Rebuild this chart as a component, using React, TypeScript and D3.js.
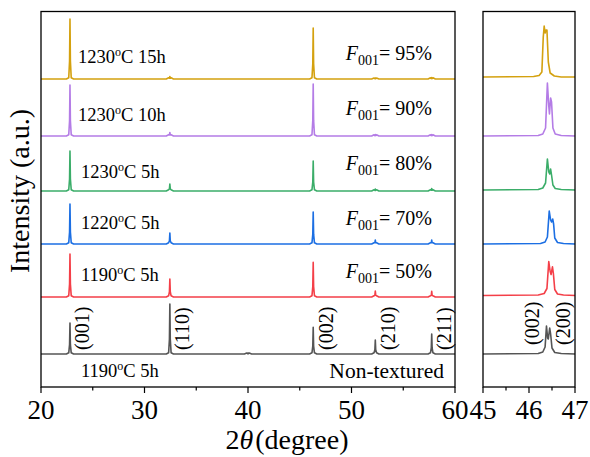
import React from 'react';
import * as d3 from 'd3';

// traces listed top to bottom
const SAMPLES = ['1230°C 15h', '1230°C 10h', '1230°C 5h', '1220°C 5h', '1190°C 5h', '1190°C 5h'];
const F001 = ['95%', '90%', '80%', '70%', '50%', ''];
const COLORS = ['#D4A10F', '#B47CE6', '#3BAD69', '#1C6FE3', '#F43F48', '#555555'];
// vertical offset of each trace (intensity units, a.u.)
const OFFSETS = [308, 251, 196, 143, 90, 33];
const RIGHT_OFFSETS = [310, 251, 197, 143, 91.5, 33];

// peak positions (2θ) and peak heights for each trace in the wide panel
const PEAK_POS = [22.8, 32.45, 40.0, 46.3, 52.3, 57.75];
const PEAK_H = [
  [60, 2.5, 0, 51, 1, 1.5],
  [51, 3.5, 0, 52, 1.5, 1.5],
  [40, 7, 0, 30, 2, 2.5],
  [40, 11, 0, 32, 4, 4],
  [43, 18, 0, 34.6, 6, 5.6],
  [31, 50, 1, 26.6, 14, 20],
];
const HKL = ['(001)', '(110)', '', '(002)', '(210)', '(211)'];

// zoomed (002)/(200) doublet, 45-47°
const ZOOM: [number, number][][] = [
  [[45, 0], [46.1, 0.5], [46.22, 1.5], [46.28, 5], [46.31, 40], [46.33, 51], [46.35, 44], [46.37, 47], [46.39, 47], [46.42, 15], [46.46, 4], [46.55, 1], [46.7, 0], [47, 0]],
  [[45, 0], [46.2, 0.5], [46.3, 2], [46.36, 8], [46.4, 53], [46.43, 30], [46.445, 22], [46.47, 38], [46.49, 34], [46.52, 8], [46.57, 2], [46.7, 0.5], [47, 0]],
  [[45, 0], [46.2, 0.5], [46.3, 2], [46.36, 7], [46.4, 31], [46.43, 18], [46.45, 16], [46.47, 21], [46.49, 15], [46.52, 5], [46.57, 1.5], [46.7, 0.5], [47, 0]],
  [[45, 0], [46.25, 0.5], [46.35, 2], [46.4, 7], [46.44, 33], [46.47, 24], [46.49, 22], [46.515, 25], [46.535, 20], [46.56, 6], [46.62, 1.5], [46.75, 0.5], [47, 0]],
  [[45, 0], [46.2, 0.5], [46.33, 2], [46.39, 7], [46.43, 34], [46.46, 24], [46.48, 21], [46.51, 28.6], [46.53, 22], [46.56, 6], [46.62, 1.5], [46.75, 0.5], [47, 0]],
  [[45, 0], [46.2, 0.5], [46.3, 2], [46.35, 7], [46.38, 28], [46.405, 16], [46.42, 15], [46.45, 26], [46.47, 20], [46.5, 6], [46.56, 1.5], [46.7, 0.5], [47, 0]],
];
const ZOOM_HKL = [{ pos: 46.22, label: '(002)' }, { pos: 46.9, label: '(200)' }];

const X_TICKS = [20, 30, 40, 50, 60];
const X_MINOR = [25, 35, 45, 55];
const XR_TICKS = [45, 46, 47];
const XR_MINOR = [45.5, 46.5];

const FONT = "'Liberation Serif', 'Times New Roman', 'DejaVu Serif', serif";

const App: React.FC = () => {
  const W = 590;
  const H = 457;
  const top = 11.5;
  const bottom = 387;
  const x = d3.scaleLinear().domain([20, 60]).range([41, 455]);
  const xr = d3.scaleLinear().domain([45, 47]).range([483, 575]);
  const y = d3.scaleLinear().domain([0, 375.5]).range([bottom, top]);

  const line = d3.line<[number, number]>()
    .x(d => x(d[0]))
    .y(d => y(d[1]));
  const lineR = d3.line<[number, number]>()
    .x(d => xr(d[0]))
    .y(d => y(d[1]));

  // build each trace from baseline + peak apexes
  const trace = (k: number): [number, number][] => {
    const off = OFFSETS[k];
    const pts: [number, number][] = [[20, off]];
    PEAK_POS.forEach((p, j) => {
      const h = PEAK_H[k][j];
      if (h <= 0) return;
      pts.push([p - 0.35, off], [p - 0.12, off + Math.min(1.2, h)], [p - 0.04, off + h * 0.3], [p, off + h],
        [p + 0.04, off + h * 0.3], [p + 0.12, off + Math.min(1.2, h)], [p + 0.35, off]);
    });
    pts.push([60, off]);
    return pts;
  };

  const sup = (s: string) => {
    const [num, rest] = s.split('°');
    return (
      <>
        {num}
        <tspan fontSize={12} dy={-7}>o</tspan>
        <tspan dy={7}>{rest}</tspan>
      </>
    );
  };

  const labelX = [78, 78, 81, 81, 81, 81];
  const labelY = [63, 121, 177.5, 228.5, 280.5, 377];
  const fY = [60, 115, 170, 224.5, 277.5];

  return (
    <svg width={W} height={H} style={{ position: 'absolute', left: 0, top: 0, background: '#fff', fontFamily: FONT }}>
      {/* traces */}
      {SAMPLES.map((_, k) => (
        <path key={'m' + k} d={line(trace(k)) || ''} fill="none" stroke={COLORS[k]} strokeWidth={1.6} strokeLinejoin="round" />
      ))}
      {ZOOM.map((pts, k) => (
        <path key={'r' + k} d={lineR(pts.map(p => [p[0], p[1] + RIGHT_OFFSETS[k]] as [number, number])) || ''}
          fill="none" stroke={COLORS[k]} strokeWidth={1.6} strokeLinejoin="round" />
      ))}

      {/* frames */}
      <rect x={x(20)} y={top} width={x(60) - x(20)} height={bottom - top} fill="none" stroke="#000" strokeWidth={1.3} />
      <rect x={xr(45)} y={top} width={xr(47) - xr(45)} height={bottom - top} fill="none" stroke="#000" strokeWidth={1.3} />

      {/* ticks */}
      {X_TICKS.map(t => <line key={'t' + t} x1={x(t)} x2={x(t)} y1={bottom} y2={bottom + 6} stroke="#000" strokeWidth={1.2} />)}
      {X_MINOR.map(t => <line key={'n' + t} x1={x(t)} x2={x(t)} y1={bottom} y2={bottom + 3.5} stroke="#000" strokeWidth={1.2} />)}
      {XR_TICKS.map(t => <line key={'rt' + t} x1={xr(t)} x2={xr(t)} y1={bottom} y2={bottom + 6} stroke="#000" strokeWidth={1.2} />)}
      {XR_MINOR.map(t => <line key={'rn' + t} x1={xr(t)} x2={xr(t)} y1={bottom} y2={bottom + 3.5} stroke="#000" strokeWidth={1.2} />)}
      {X_TICKS.map(t => (
        <text key={'l' + t} x={x(t)} y={419} fontSize={27} textAnchor="middle">{t}</text>
      ))}
      {XR_TICKS.map(t => (
        <text key={'rl' + t} x={xr(t)} y={419} fontSize={27} textAnchor="middle">{t}</text>
      ))}

      {/* axis titles */}
      <text x={287} y={449} fontSize={28} textAnchor="middle">
        2<tspan fontStyle="italic">θ</tspan><tspan dx={2}>(degree)</tspan>
      </text>
      <text transform="translate(29,191) rotate(-90)" fontSize={28} textAnchor="middle">Intensity (a.u.)</text>

      {/* sample labels */}
      {SAMPLES.map((s, k) => (
        <text key={'s' + k} x={labelX[k]} y={labelY[k]} fontSize={18.5}>{sup(s)}</text>
      ))}
      {F001.map((f, k) => f && (
        <text key={'f' + k} x={432} y={fY[k]} fontSize={20} textAnchor="end">
          <tspan fontStyle="italic">F</tspan>
          <tspan fontSize={14} dy={5}>001</tspan>
          <tspan dy={-5}>= {f}</tspan>
        </text>
      ))}
      <text x={444} y={378} fontSize={21.5} textAnchor="end">Non-textured</text>

      {/* Miller indices */}
      {PEAK_POS.map((p, j) => HKL[j] && (
        <text key={'h' + j} transform={`translate(${x(p) + 19.5},350) rotate(-90)`} fontSize={20}>{HKL[j]}</text>
      ))}
      {ZOOM_HKL.map(h => (
        <text key={h.label} transform={`translate(${xr(h.pos)},345) rotate(-90)`} fontSize={20}>{h.label}</text>
      ))}
    </svg>
  );
};

export default App;
